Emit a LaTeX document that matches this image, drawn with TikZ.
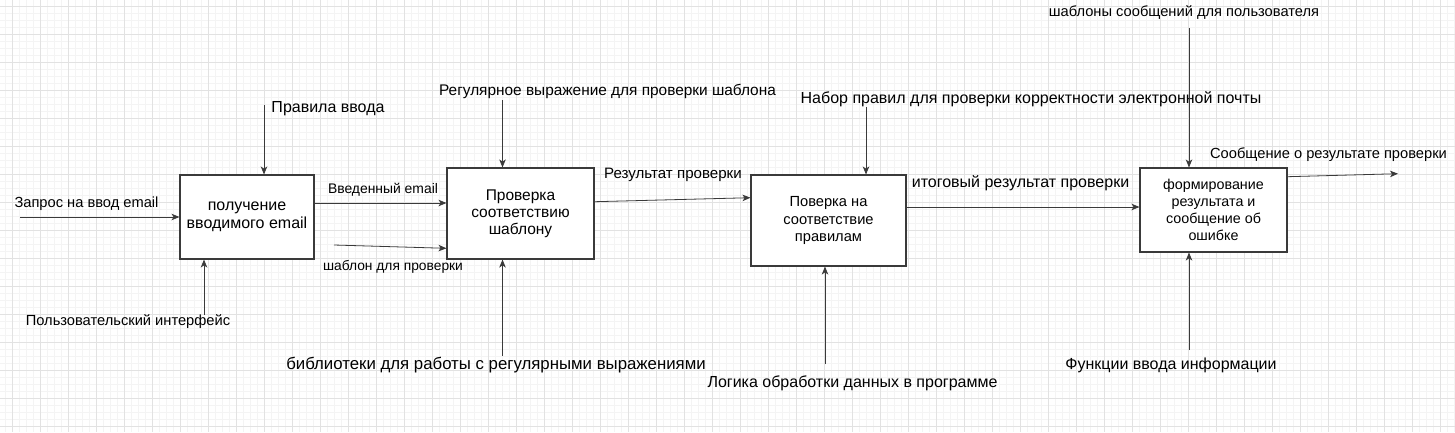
\documentclass[tikz,border=0pt]{standalone}
\usepackage{fontspec}
\setmainfont{Liberation Sans}
\usetikzlibrary{arrows.meta}
\definecolor{gridmaj}{HTML}{E2E2E2}
\definecolor{gridmin}{HTML}{F4F4F4}
\definecolor{linec}{HTML}{3A3A3A}
\newcommand{\fsz}[1]{\fontsize{#1}{#1}\selectfont}
\tikzset{
  box/.style={draw=linec, line width=1.1pt, fill=white, align=center, inner sep=0pt},
  arr/.style={draw=linec, line width=0.8pt, -{Stealth[length=8pt,width=6.5pt,inset=2.2pt]}},
  lblS/.style={font=\fsz{14.67}, inner sep=0pt},
  lblL/.style={font=\fsz{16}, inner sep=0pt},
}
\begin{document}
\begin{tikzpicture}[x=1pt,y=-1pt]
\useasboundingbox (0,0) rectangle (1455,432);
\fill[white] (0,0) rectangle (1455,432);
% grid
\foreach \i in {-1,...,207} {\draw[gridmin, line width=0.6pt] ({12.3+7*\i},0) -- ({12.3+7*\i},432);}
\foreach \i in {-1,...,61} {\draw[gridmin, line width=0.6pt] (0,{6.5+7*\i}) -- (1455,{6.5+7*\i});}
\foreach \i in {0,...,52} {\draw[gridmaj, line width=0.9pt] ({12.3+28*\i},0) -- ({12.3+28*\i},432);}
\foreach \i in {0,...,15} {\draw[gridmaj, line width=0.9pt] (0,{6.5+28*\i}) -- (1455,{6.5+28*\i});}

% boxes
\node[box, minimum width=134pt, minimum height=84pt, font=\fontsize{16}{18.4}\selectfont] (b1) at (247,217) {получение\\вводимого email};
\node[box, minimum width=147pt, minimum height=91pt, font=\fontsize{15.5}{17}\selectfont] (b2) at (520.5,213.5) {Проверка\\соответствию\\шаблону};
\node[box, minimum width=155pt, minimum height=91pt, font=\fontsize{14.67}{17.5}\selectfont] (b3) at (828.5,220.5) {Поверка на\\соответствие\\правилам};
\node[box, minimum width=147pt, minimum height=84pt, font=\fontsize{14.3}{17}\selectfont] (b4) at (1213.5,210) {формирование\\результата и\\сообщение об\\ошибке};

% labels
\node[lblS] (l1) at (86.5,204) {Запрос на ввод email};
\node[lblL] (l2) at (328,109) {Правила ввода};
\node[lblS] (l3) at (128,322) {Пользовательский интерфейс};
\node[lblS, font=\fsz{13.9}] (l4) at (383,190) {Введенный email};
\node[lblS, font=\fsz{13.8}] (l5) at (393,267) {шаблон для проверки};
\node[lblL, font=\fsz{15.4}] (l6) at (607.5,91) {Регулярное выражение для проверки шаблона};
\node[lblL, font=\fsz{15.1}] (l7) at (673,175) {Результат проверки};
\node[lblL, font=\fsz{16.8}] (l8) at (496,365) {библиотеки для работы с регулярными выражениями};
\node[lblL] (l9) at (1031,99) {Набор правил для проверки корректности электронной почты};
\node[lblL] (l10) at (1020.5,183) {итоговый результат проверки};
\node[lblL] (l11) at (852.5,383) {Логика обработки данных в программе};
\node[lblS] (l12) at (1184,13) {шаблоны сообщений для пользователя};
\node[lblS] (l13) at (1328.5,155) {Сообщение о результате проверки};
\node[lblL] (l14) at (1171,365) {Функции ввода информации};

% free ends
\coordinate (in1) at (20,217);
\coordinate (c1) at (264,105);
\coordinate (m1) at (204,315);
\coordinate (in2) at (334,245);
\coordinate (c2) at (502.5,100);
\coordinate (m2) at (502.5,356);
\coordinate (c3) at (866,107);
\coordinate (m3) at (825,364);
\coordinate (c4) at (1189,28);
\coordinate (m4) at (1189,350);
\coordinate (out4) at (1398,173.7);

% connectors
\draw[arr] (in1) -- (b1.west |- in1);
\draw[arr] (c1) -- (b1.north -| c1);
\draw[arr] (m1) -- (b1.south -| m1);
\draw[arr] (b1.east |- 0,203) -- (b2.west |- 0,203);
\draw[arr] (in2) -- (b2.west |- 0,248.3);
\draw[arr] (c2) -- (b2.north -| c2);
\draw[arr] (m2) -- (b2.south -| m2);
\draw[arr] (b2.east |- 0,201.7) -- (b3.west |- 0,197.7);
\draw[arr] (c3) -- (b3.north -| c3);
\draw[arr] (m3) -- (b3.south -| m3);
\draw[arr] (b3.east |- 0,207) -- (b4.west |- 0,207);
\draw[arr] (c4) -- (b4.north -| c4);
\draw[arr] (m4) -- (b4.south -| m4);
\draw[arr] (b4.east |- 0,176.7) -- (out4);
\end{tikzpicture}
\end{document}
